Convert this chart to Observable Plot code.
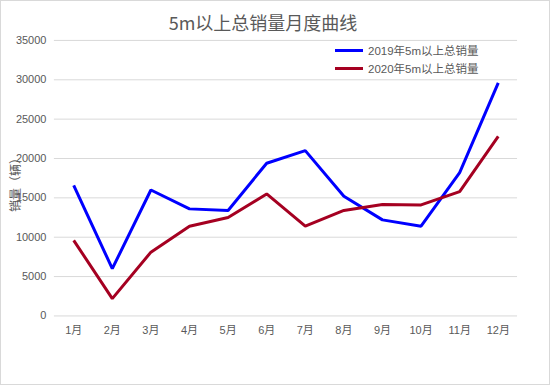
<!DOCTYPE html>
<html><head><meta charset="utf-8">
<script src="https://cdn.jsdelivr.net/npm/d3@7"></script>
<script src="https://cdn.jsdelivr.net/npm/@observablehq/plot@0.6"></script>
<style>
body{margin:0;background:#fff;}
#wrap{position:relative;width:550px;height:385px;box-sizing:border-box;border:1px solid #d9d9d9;overflow:hidden;font-family:"Liberation Sans","Noto Sans CJK SC",sans-serif;color:#595959;}
#chart{position:absolute;left:-1px;top:-1px;}
#title{position:absolute;left:0;width:524px;top:8px;text-align:center;font-size:18px;font-family:"Noto Sans CJK SC",sans-serif;color:#595959;}
#ylab{position:absolute;left:13px;top:181px;transform:translate(-50%,-50%) rotate(-90deg);font-size:12px;white-space:nowrap;font-family:"Noto Sans CJK SC",sans-serif;color:#595959;}
.leg{position:absolute;left:334px;font-size:11.5px;display:flex;align-items:center;white-space:nowrap;}
.leg span.sw{display:inline-block;width:28px;height:3px;margin-right:5px;}
</style></head>
<body>
<div id="wrap">
<div id="chart"></div>
<div id="title"></div>
<div id="ylab"></div>
<div id="legend"></div>
</div>
<script>
const title = "5m以上总销量月度曲线";
const yLabel = "销量（辆）";
const months = ["1月","2月","3月","4月","5月","6月","7月","8月","9月","10月","11月","12月"];
const sales2019 = [16600, 6000, 16000, 13600, 13400, 19400, 21000, 15200, 12200, 11400, 18200, 29600];
const sales2020 = [9600, 2200, 8100, 11400, 12500, 15500, 11400, 13400, 14150, 14100, 15800, 22800];
const seriesNames = ["2019年5m以上总销量", "2020年5m以上总销量"];
const seriesColors = ["#0000ff", "#a50021"];
const yTicks = [0,5000,10000,15000,20000,25000,30000,35000];

const data = [];
months.forEach((m,i)=>{
  data.push({month:m, value:sales2019[i], series:seriesNames[0]});
  data.push({month:m, value:sales2020[i], series:seriesNames[1]});
});

const plot = Plot.plot({
  width: 550, height: 385,
  marginLeft: 54, marginRight: 32, marginTop: 40, marginBottom: 69,
  style: {fontFamily: '"Liberation Sans","Noto Sans CJK SC",sans-serif', fontSize: "11px", color: "#595959", background: "transparent"},
  x: {type: "point", domain: months, padding: 0.5, round: false, label: null},
  y: {domain: [0, 35000], label: null},
  color: {domain: seriesNames, range: seriesColors},
  marks: [
    Plot.ruleY(yTicks, {stroke: "#d9d9d9", strokeWidth: 1}),
    Plot.axisY({ticks: yTicks, tickSize: 0, tickPadding: 8, label: null, tickFormat: d => String(d)}),
    Plot.axisX({tickSize: 0, tickPadding: 10, label: null}),
    Plot.line(data, {x: "month", y: "value", z: "series", stroke: "series", strokeWidth: 3, strokeLinejoin: "miter", strokeLinecap: "butt"})
  ]
});
document.getElementById("chart").appendChild(plot);
document.getElementById("title").textContent = title;
document.getElementById("ylab").textContent = yLabel;
const legend = document.getElementById("legend");
seriesNames.forEach((n,i)=>{
  const d = document.createElement("div");
  d.className = "leg";
  d.style.top = (41 + i*18) + "px";
  d.innerHTML = `<span class="sw" style="background:${seriesColors[i]}"></span><span>${n}</span>`;
  legend.appendChild(d);
});
</script>
</body></html>
